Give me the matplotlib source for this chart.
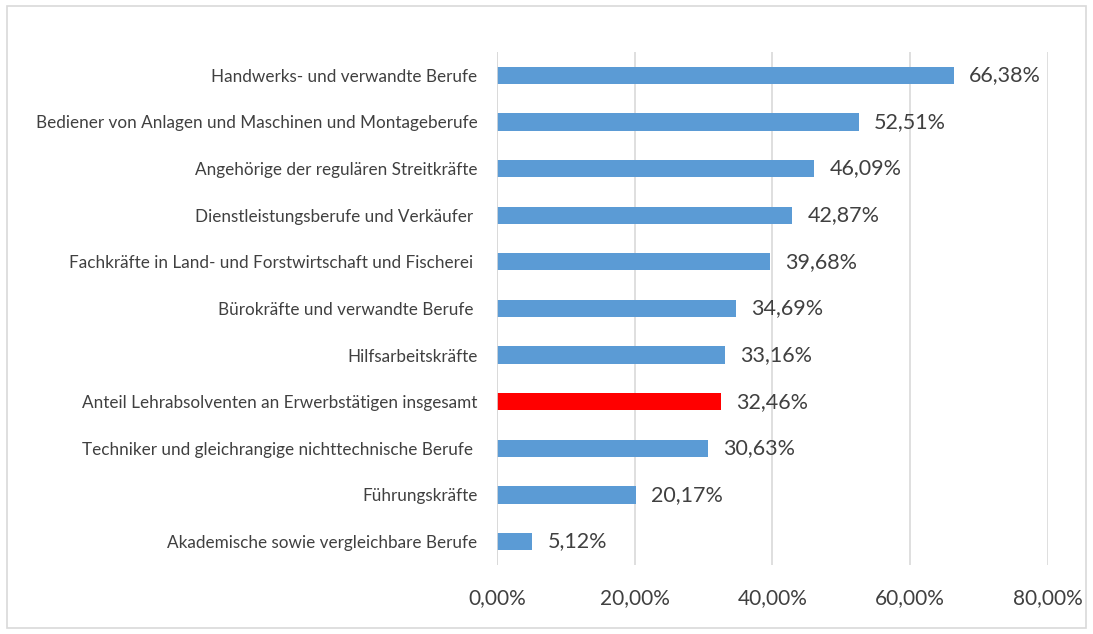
import matplotlib.pyplot as plt
from matplotlib.patches import Rectangle

categories = [
    "Handwerks- und verwandte Berufe",
    "Bediener von Anlagen und Maschinen und Montageberufe",
    "Angehörige der regulären Streitkräfte",
    "Dienstleistungsberufe und Verkäufer ",
    "Fachkräfte in Land- und Forstwirtschaft und Fischerei ",
    "Bürokräfte und verwandte Berufe ",
    "Hilfsarbeitskräfte",
    "Anteil Lehrabsolventen an Erwerbstätigen insgesamt",
    "Techniker und gleichrangige nichttechnische Berufe ",
    "Führungskräfte",
    "Akademische sowie vergleichbare Berufe",
]
values = [66.38, 52.51, 46.09, 42.87, 39.68, 34.69, 33.16, 32.46, 30.63, 20.17, 5.12]
highlight = "Anteil Lehrabsolventen an Erwerbstätigen insgesamt"
ticks = [0, 20, 40, 60, 80]

plt.rcParams['font.family'] = ['Lato', 'DejaVu Sans']
text_col = '#404040'

fig = plt.figure(figsize=(10.93, 6.34), dpi=100)
ax = fig.add_axes([0.4547, 0.109, 0.5041, 0.809])

pos = list(range(len(categories)))[::-1]
colors = ['#ff0000' if c == highlight else '#5b9bd5' for c in categories]
ax.barh(pos, values, height=0.37, color=colors, zorder=3)

for p, v in zip(pos, values):
    ax.text(v + 2.2, p, "{:.2f}%".format(v).replace('.', ','), va='center', ha='left',
            fontsize=15.5, color=text_col)

ax.set_xlim(0, 80)
ax.set_ylim(-0.5, len(categories) - 0.5)
ax.set_xticks(ticks)
ax.set_xticklabels(["{:.2f}%".format(t).replace('.', ',') for t in ticks], fontsize=15, color=text_col)
ax.set_yticks(pos)
ax.set_yticklabels(categories, fontsize=12.3, color=text_col)
ax.tick_params(axis='both', length=0)
ax.tick_params(axis='x', pad=17)
ax.tick_params(axis='y', pad=14)
ax.grid(axis='x', color='#d9d9d9', linewidth=1.2, zorder=0)
for s in ax.spines.values():
    s.set_visible(False)
ax.axvline(0, color='#d9d9d9', linewidth=1.2, zorder=4)

fig.patches.append(Rectangle((7 / 1093, 6 / 634), 1 - 14 / 1093, 1 - 12 / 634, transform=fig.transFigure,
                             fill=False, edgecolor='#d9d9d9', linewidth=1.2))

fig.savefig('out.png', dpi=100)
